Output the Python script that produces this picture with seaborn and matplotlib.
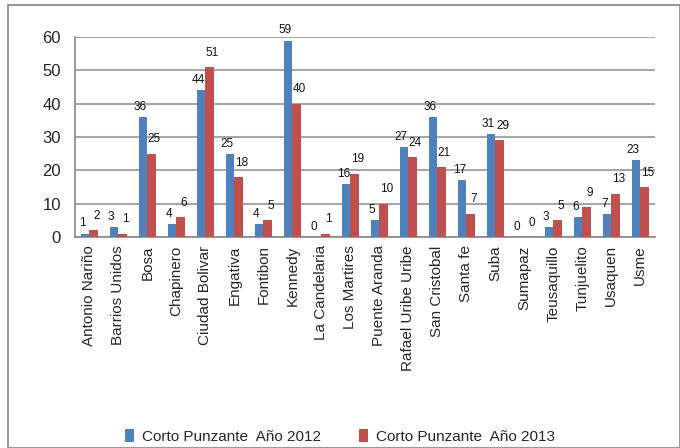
import pandas as pd
import numpy as np
import seaborn as sns
import matplotlib.pyplot as plt
from matplotlib.patches import Rectangle

localidades = ['Antonio Nariño', 'Barrios Unidos', 'Bosa', 'Chapinero', 'Ciudad Bolivar',
               'Engativa', 'Fontibon', 'Kennedy', 'La Candelaria', 'Los Martires',
               'Puente Aranda', 'Rafael Uribe Uribe', 'San Cristobal', 'Santa fe', 'Suba',
               'Sumapaz', 'Teusaquillo', 'Tunjuelito', 'Usaquen', 'Usme']
casos_2012 = [1, 3, 36, 4, 44, 25, 4, 59, 0, 16, 5, 27, 36, 17, 31, 0, 3, 6, 7, 23]
casos_2013 = [2, 1, 25, 6, 51, 18, 5, 40, 1, 19, 10, 24, 21, 7, 29, 0, 5, 9, 13, 15]
series = ['Corto Punzante  Año 2012', 'Corto Punzante  Año 2013']

df = pd.concat([
    pd.DataFrame({'localidad': localidades, 'casos': casos_2012, 'serie': series[0]}),
    pd.DataFrame({'localidad': localidades, 'casos': casos_2013, 'serie': series[1]}),
], ignore_index=True)

sns.set_style('white')
plt.rcParams['font.family'] = ['Liberation Sans', 'DejaVu Sans']

fig = plt.figure(figsize=(6.8, 4.48), dpi=100)
ax = fig.add_axes([0.110, 0.471, 0.853, 0.446])

ax.yaxis.grid(True, color='#a6a6a6', linewidth=1.5, zorder=0)
ax.set_axisbelow(True)

sns.barplot(data=df, x='localidad', y='casos', hue='serie',
            palette=['#4f81bd', '#c0504d'], saturation=1, width=0.6, gap=0.03,
            edgecolor='none', ax=ax, legend=True, zorder=3)

# etiquetas: la azul un poco a la izquierda, la roja arriba a la derecha
offsets = [(-2, 3), (2, 6)]
for cont, off in zip(ax.containers, offsets):
    for bar in cont:
        h = bar.get_height()
        ax.annotate(f'{int(round(h))}', (bar.get_x() + bar.get_width() / 2, h),
                    xytext=off, textcoords='offset points', ha='center', va='bottom',
                    fontsize=8.5, color='#111111')

ax.set_ylim(0, 60)
ax.set_xlim(-0.5, len(localidades) - 0.5)
ax.set_yticks(range(0, 61, 10))
ax.tick_params(axis='y', labelsize=12, length=4, color='#888888', pad=6)
ax.tick_params(axis='x', labelsize=11, rotation=90, length=0, pad=6)
ax.set_xticks(np.arange(-0.5, len(localidades), 1), minor=True)
ax.tick_params(axis='x', which='minor', length=5, color='#888888', direction='out')
ax.set_xlabel('')
ax.set_ylabel('')

for s in ['top', 'right']:
    ax.spines[s].set_visible(False)
for s in ['left', 'bottom']:
    ax.spines[s].set_color('#888888')
    ax.spines[s].set_linewidth(1.2)

handles, labels = ax.get_legend_handles_labels()
ax.legend_.remove()
fig.legend(handles, labels, loc='center', bbox_to_anchor=(0.5, 0.025), ncol=2,
           frameon=False, fontsize=11, handlelength=0.6, handleheight=0.9,
           columnspacing=2.5, handletextpad=0.5)

fig.patches.append(Rectangle((8 / 680, 0), 1 - 8 / 680, 1 - 5 / 448,
                             transform=fig.transFigure, fill=False,
                             edgecolor='#999999', linewidth=1.5))

fig.savefig('out.png', dpi=100)
